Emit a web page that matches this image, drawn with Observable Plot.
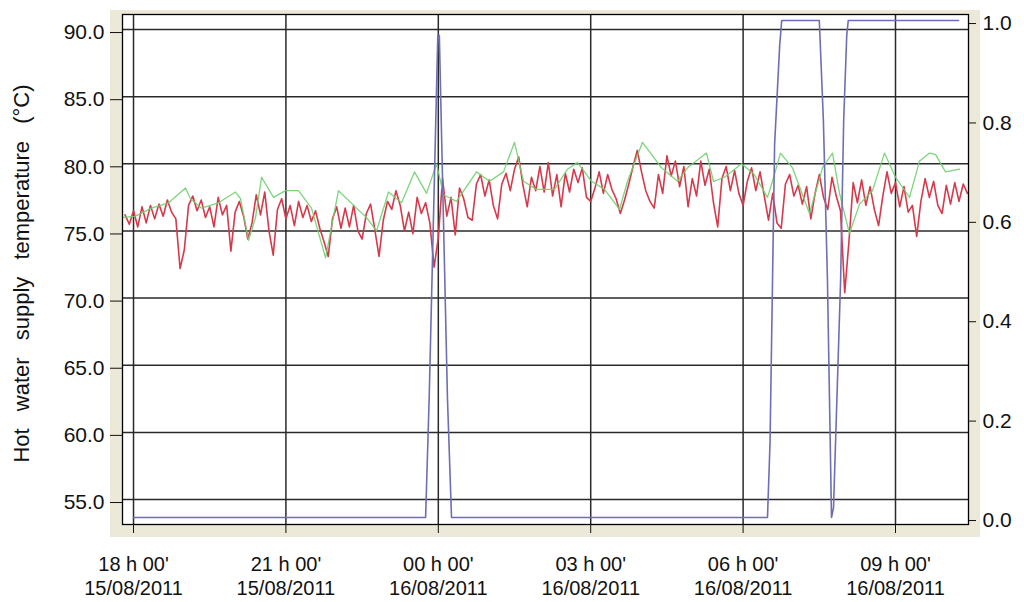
<!DOCTYPE html>
<html><head><meta charset="utf-8">
<script src="https://cdn.jsdelivr.net/npm/d3@7"></script>
<script src="https://cdn.jsdelivr.net/npm/@observablehq/plot@0.6"></script>
<style>
body{margin:0;background:#fff;}
#wrap{position:relative;width:1024px;height:602px;overflow:hidden;}
#panel{position:absolute;left:110px;top:10px;width:870px;height:527px;background:#ECE9D8;}
#chart{position:absolute;left:0;top:0;}
</style></head><body>
<div id="wrap"><div id="panel"></div><div id="chart"></div></div>
<script>
// time in hours since 15/08/2011 00:00
const redStartHour = 17 + 50/60;   // 17:50
const redStepMinutes = 5;
const redTemp = [
76.2,75.5,76.5,75.3,76.8,75.6,76.9,75.9,77.0,76.1,77.3,76.4,
75.9,72.2,73.6,76.9,
77.6,76.5,77.3,76.0,76.8,75.3,77.5,76.2,76.9,73.5,76.4,77.2,76.1,74.4,75.6,77.7,76.2,77.9,75.0,73.2,76.6,77.4,75.9,76.9,75.4,77.2,76.0,76.9,75.7,76.5,75.2,74.2,73.1,75.9,76.8,
75.2,76.7,75.3,76.9,75.0,74.4,76.3,77.0,75.1,73.1,75.8,77.2,76.6,78.0,76.9,75.0,76.4,74.8,77.5,76.3,77.1,75.6,72.3,74.5,78.9,76.1,77.5,74.7,78.2,77.4,76.0,75.8,78.5,79.2,77.6,78.8,76.9,75.9,78.5,79.3,78.0,79.6,80.5,78.4,76.8,79.0,78.0,79.8,77.9,80.1,77.6,79.2,
76.8,79.3,77.9,79.6,78.6,79.7,77.5,77.2,78.2,79.4,77.8,79.2,78.1,77.4,76.3,77.3,78.5,79.8,81.0,79.4,78.0,77.2,76.7,79.2,77.8,80.6,79.1,80.2,78.3,79.8,76.8,78.9,77.6,80.2,78.4,79.6,77.1,75.3,78.9,79.8,78.0,79.5,77.8,76.9,78.7,79.7,78.0,79.4,77.6,75.8,77.8,
75.6,75.2,78.5,79.2,77.6,78.4,77.0,78.3,75.9,77.8,79.2,77.5,76.6,79.0,77.6,76.5,70.4,74.2,78.6,77.1,78.8,76.9,78.3,76.6,75.4,77.6,79.4,77.8,78.6,76.8,78.3,76.4,76.9,74.6,77.2,78.9,77.5,78.7,76.9,76.3,78.4,77.0,78.6,77.2,78.5,77.8
];
const greenHour = [17.783,18.039,18.354,18.689,19.024,19.122,19.339,19.673,20.008,20.106,20.264,20.402,20.520,20.756,20.992,21.248,21.504,21.780,22.035,22.390,22.587,22.783,23.020,23.276,23.531,23.768,23.965,24.102,24.358,24.752,25.008,25.283,25.500,25.677,25.933,26.287,26.543,26.740,27.016,27.272,27.567,27.724,28.020,28.394,28.709,28.906,29.280,29.417,29.634,29.969,30.220,30.480,30.579,30.736,30.972,31.307,31.563,31.760,31.898,32.094,32.291,32.547,32.783,33.000,33.276,33.472,33.669,33.787,33.984,34.260];
const greenTemp = [76.0,76.1,76.7,77.1,78.2,77.4,76.7,77.1,77.9,77.4,74.3,76.0,79.0,77.5,78.0,78.0,76.7,73.0,78.0,76.7,76.0,75.0,77.9,77.1,79.4,77.8,80.0,77.7,77.2,79.4,78.7,79.4,81.6,78.7,78.1,78.1,79.6,80.1,78.7,78.1,76.6,78.7,81.6,79.7,78.7,79.7,80.8,78.7,79.0,80.0,79.2,77.5,78.7,80.8,79.7,76.3,79.7,80.8,77.8,74.8,77.0,78.0,80.8,79.0,77.5,80.2,80.8,80.7,79.4,79.6];
const blueHour = [18.0,23.75,23.82,23.99,24.02,24.18,24.26,30.48,30.53,30.62,30.72,30.76,31.50,31.58,31.66,31.74,31.78,31.92,31.98,32.04,32.07,34.24];
const blueState = [0,0,0.24,0.97,0.97,0.24,0,0,0.15,0.75,0.95,1.0,1.0,0.8,0.48,0,0.02,0.48,0.8,0.97,1.0,1.0];
const xTicks = [18,21,24,27,30,33];
const xTickLabels = ["18 h 00'\n15/08/2011","21 h 00'\n15/08/2011","00 h 00'\n16/08/2011","03 h 00'\n16/08/2011","06 h 00'\n16/08/2011","09 h 00'\n16/08/2011"];
const leftTicks = [55,60,65,70,75,80,85,90];
const rightTicks = [0,0.2,0.4,0.6,0.8,1.0];
const yTitle = "Hot water supply temperature (°C)";

const red = redTemp.map((t,i)=>({h: redStartHour + i*redStepMinutes/60, t}));
const green = greenHour.map((h,i)=>({h, t: greenTemp[i]}));
const right = d3.scaleLinear([0,1],[53.66,90.67]);
const blue = blueHour.map((h,i)=>({h, v: right(blueState[i])}));

const plot = Plot.plot({
  width:1024, height:602,
  marginLeft:122, marginRight:56, marginTop:14, marginBottom:78,
  style:{background:"transparent", fontFamily:"'Liberation Sans', Arial, sans-serif", color:"#111"},
  x:{domain:[17.783,34.437]},
  y:{domain:[53.14,91.12]},
  marks:[
    Plot.frame({fill:"white", stroke:null}),
    Plot.gridY(leftTicks, {stroke:"#2a2a2a", strokeOpacity:1, strokeWidth:1.5}),
    Plot.gridX(xTicks, {stroke:"#2a2a2a", strokeOpacity:1, strokeWidth:1.5}),
    Plot.line(red, {x:"h", y:"t", stroke:"#d6394b", strokeWidth:1.6}),
    Plot.line(green, {x:"h", y:"t", stroke:"#6fd06f", strokeWidth:1.3, strokeOpacity:0.9}),
    Plot.line(blue, {x:"h", y:"v", stroke:"#6e6eb4", strokeWidth:1.6}),
    Plot.frame({stroke:"#000", strokeWidth:1.3}),
    Plot.axisY(leftTicks, {anchor:"left", tickSize:12, tickPadding:6, tickFormat:d=>d.toFixed(1), fontSize:21, label:null, dy:3}),
    Plot.axisY(rightTicks.map(right), {anchor:"right", tickSize:7, tickPadding:7, tickFormat:d=>right.invert(d).toFixed(1), fontSize:21, label:null, dy:3}),
    Plot.axisX(xTicks, {anchor:"bottom", tickSize:9, tickPadding:20, tickFormat:d=>xTickLabels[xTicks.indexOf(d)], fontSize:20, lineHeight:1.2, label:null}),
    Plot.text([yTitle], {frameAnchor:"left", textAnchor:"middle", dx:-101, dy:4, rotate:-90, fontSize:22, fill:"#111"})
  ]
});
d3.select(plot).selectAll("text")
  .filter(function(){ return this.textContent === yTitle; })
  .style("word-spacing", "11px").attr("word-spacing", "11px");
document.getElementById("chart").appendChild(plot);
</script>
</body></html>
